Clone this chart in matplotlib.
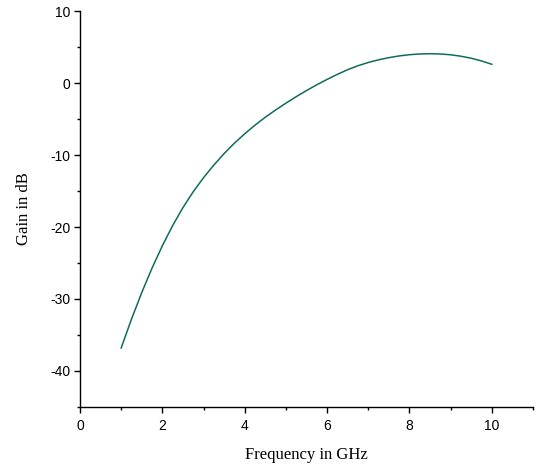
import matplotlib
matplotlib.use("Agg")
import matplotlib.pyplot as plt
from matplotlib.ticker import MultipleLocator

plt.rcParams["axes.unicode_minus"] = False

# Datos (frecuencia en GHz, ganancia en dB)
frecuencia = [1.0, 1.25, 1.5, 1.75, 2.0, 2.25, 2.5, 2.75, 3.0, 3.25, 3.5, 3.75,
              4.0, 4.25, 4.5, 4.75, 5.0, 5.25, 5.5, 5.75, 6.0, 6.25, 6.5, 6.75,
              7.0, 7.25, 7.5, 7.75, 8.0, 8.25, 8.5, 8.75, 9.0, 9.25, 9.5, 9.75, 10.0]
ganancia = [-36.8, -32.8, -29.1, -25.7, -22.6, -19.8, -17.3, -15.1, -13.15, -11.4,
            -9.8, -8.35, -7.05, -5.85, -4.75, -3.75, -2.8, -1.9, -1.05, -0.25,
            0.5, 1.2, 1.85, 2.4, 2.85, 3.22, 3.52, 3.76, 3.93, 4.03, 4.07, 4.03,
            3.92, 3.72, 3.44, 3.06, 2.6]

x_ticks = [0, 2, 4, 6, 8, 10]
y_ticks = [-40, -30, -20, -10, 0, 10]

fig = plt.figure(figsize=(5.36, 4.67), dpi=100)
ax = fig.add_axes([80 / 536, 1 - 407 / 467, 453 / 536, 396 / 467])

ax.plot(frecuencia, ganancia, color="#0f6b5c", linewidth=1.1)

ax.set_xlim(0, 11)
ax.set_ylim(-45, 10)
ax.set_xticks(x_ticks)
ax.set_yticks(y_ticks)
ax.xaxis.set_minor_locator(MultipleLocator(1))
ax.yaxis.set_minor_locator(MultipleLocator(5))

for s in ["top", "right"]:
    ax.spines[s].set_visible(False)
for s in ["left", "bottom"]:
    ax.spines[s].set_linewidth(1.0)

ax.tick_params(which="major", direction="out", length=4, width=1.0,
               labelsize=10, pad=3)
ax.tick_params(axis="x", which="major", pad=5)
ax.tick_params(which="minor", direction="out", length=2.5, width=1.0)
for lab in ax.get_xticklabels() + ax.get_yticklabels():
    lab.set_fontfamily("Liberation Sans")

ax.set_xlabel("Frequency in GHz", fontfamily="Liberation Serif", fontsize=12, labelpad=10)
ax.set_ylabel("Gain in dB", fontfamily="Liberation Serif", fontsize=12, labelpad=13)

fig.savefig("out.png", dpi=100)
